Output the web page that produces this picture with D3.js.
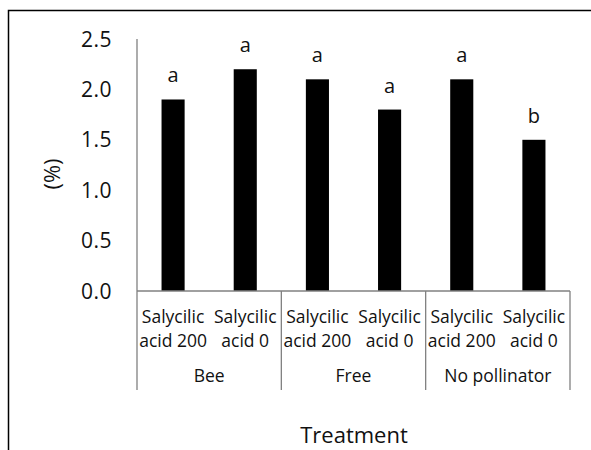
<!DOCTYPE html>
<html><head><meta charset="utf-8">
<script src="https://cdn.jsdelivr.net/npm/d3@7"></script>
<style>body{margin:0;background:#fff}svg{display:block}text{font-family:"Open Sans",sans-serif;fill:#111}</style>
</head><body>
<script>
const groups = ["Bee", "Free", "No pollinator"];
const treatments = ["Salycilic acid 200", "Salycilic acid 0"];
const values = [1.9, 2.2, 2.1, 1.8, 2.1, 1.5];
const letters = ["a", "a", "a", "a", "a", "b"];
const yTicks = [0, 0.5, 1.0, 1.5, 2.0, 2.5];

const W = 591, H = 450;
const svg = d3.select("body").append("svg").attr("width", W).attr("height", H);

// frame
svg.append("path").attr("d", `M8.5,${H} V10.5 H${W}`).attr("fill","none").attr("stroke","#000").attr("stroke-width",1.5);

const cats = [];
groups.forEach(g => treatments.forEach(t => cats.push(g + "|" + t)));
const x = d3.scaleBand().domain(cats).range([137, 570]).paddingInner(0.68).paddingOuter(0.34);
const xb = d3.scaleBand().domain(cats).range([137, 570]);
const xg = d3.scaleBand().domain(groups).range([137, 570]);
const y = d3.scaleLinear().domain([0, 2.5]).range([291, 39]);

const grey = "#808080";
// y axis line
svg.append("line").attr("x1",137).attr("x2",137).attr("y1",y(2.5)).attr("y2",390).attr("stroke",grey).attr("stroke-width",1.3);
// y tick labels
svg.selectAll(".yt").data(yTicks).enter().append("text")
  .attr("x", 112).attr("y", d => y(d) + 7.5).attr("text-anchor","end")
  .style("font-size","21px").style("letter-spacing","0.5px").text(d => d.toFixed(1));

// bars
svg.selectAll(".bar").data(values).enter().append("rect")
  .attr("x", (d,i) => x(cats[i])).attr("width", x.bandwidth())
  .attr("y", d => y(d)).attr("height", d => y(0) - y(d)).attr("fill","#000");
// letters
svg.selectAll(".lt").data(letters).enter().append("text")
  .attr("x", (d,i) => x(cats[i]) + x.bandwidth()/2).attr("y", (d,i) => y(values[i]) - 17)
  .attr("text-anchor","middle").style("font-size","20px").text(d => d);

// baseline
svg.append("line").attr("x1",137).attr("x2",570).attr("y1",y(0)).attr("y2",y(0)).attr("stroke",grey).attr("stroke-width",1.3);
// group separators
svg.selectAll(".sep").data(groups.slice(1).concat(["__end"])).enter().append("line")
  .attr("x1", d => d === "__end" ? 570 : xg(d)).attr("x2", d => d === "__end" ? 570 : xg(d))
  .attr("y1", y(0)).attr("y2", 390).attr("stroke",grey).attr("stroke-width",1.3);

// category labels
cats.forEach(c => {
  const t = c.split("|")[1];
  const words = t.split(" ");
  const l1 = words[0], l2 = words.slice(1).join(" ");
  const cx = xb(c) + xb.bandwidth()/2;
  const tx = svg.append("text").attr("text-anchor","middle").style("font-size","17.5px");
  tx.append("tspan").attr("x", cx).attr("y", 323).text(l1);
  tx.append("tspan").attr("x", cx).attr("y", 347).text(l2);
});
// group labels
svg.selectAll(".gl").data(groups).enter().append("text")
  .attr("x", d => xg(d) + xg.bandwidth()/2).attr("y", 382).attr("text-anchor","middle")
  .style("font-size","17.5px").text(d => d);

// axis titles
svg.append("text").attr("transform","translate(60,174) rotate(-90)").attr("text-anchor","middle")
  .style("font-size","22px").text("(%)");
svg.append("text").attr("x", 354).attr("y", 443).attr("text-anchor","middle")
  .style("font-size","22px").style("font-weight","500").text("Treatment");
</script>
</body></html>
